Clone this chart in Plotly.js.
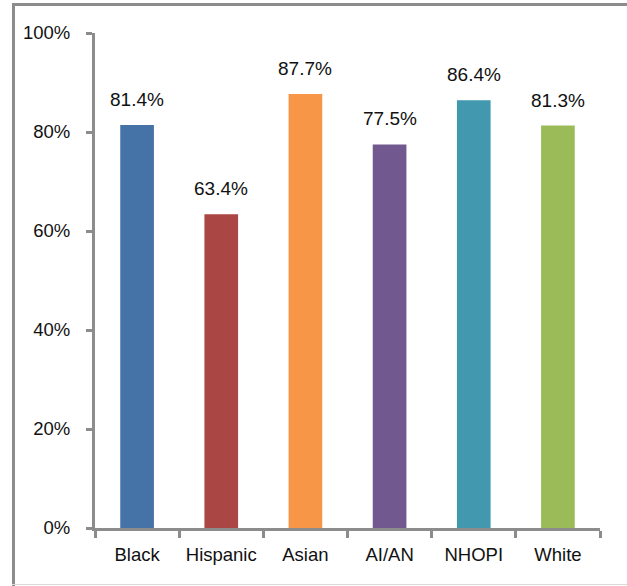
<!DOCTYPE html>
<html>
<head>
<meta charset="utf-8">
<script src="https://cdn.plot.ly/plotly-3.0.1.min.js"></script>
<style>
  html, body { margin: 0; padding: 0; background: #fff; }
  #wrap { position: relative; width: 627px; height: 586px; overflow: hidden; }
  #chart { position: absolute; left: 0; top: 0; width: 627px; height: 586px; }
  .frame { position: absolute; background: #8c8c8c; }
</style>
</head>
<body>
<div id="wrap">
  <div id="chart"></div>
  <div class="frame" style="left:12px; top:3px; width:615px; height:3px;"></div>
  <div class="frame" style="left:12px; top:3px; width:3px; height:583px;"></div>
  <div class="frame" style="left:12px; top:584px; width:615px; height:1px; background:#d9d9d9;"></div>
</div>
<script>
const categories = ["Black", "Hispanic", "Asian", "AI/AN", "NHOPI", "White"];
const values = [81.4, 63.4, 87.7, 77.5, 86.4, 81.3];
const labels = ["81.4%", "63.4%", "87.7%", "77.5%", "86.4%", "81.3%"];
const colors = ["#4572A7", "#AA4643", "#F79646", "#71588F", "#4198AF", "#9BBB59"];
const yTickVals = [0, 20, 40, 60, 80, 100];
const yTickText = ["0%", "20%", "40%", "60%", "80%", "100%"];

const font = "Liberation Sans, Arial, sans-serif";

const trace = {
  type: "bar",
  x: categories,
  y: values,
  marker: { color: colors },
  hoverinfo: "none",
  cliponaxis: false
};

const annotations = categories.map((c, i) => ({
  x: c, y: values[i], xref: "x", yref: "y",
  text: labels[i], showarrow: false,
  yanchor: "bottom", yshift: 13,
  font: { family: font, size: 19, color: "#111111" }
}));

const layout = {
  width: 627, height: 586,
  margin: { l: 95, r: 27, t: 33, b: 58 },
  paper_bgcolor: "rgba(0,0,0,0)",
  plot_bgcolor: "rgba(0,0,0,0)",
  showlegend: false,
  bargap: 0.6,
  font: { family: font, size: 18, color: "#111111" },
  xaxis: {
    type: "category",
    showline: true, linecolor: "#8c8c8c", linewidth: 3,
    ticks: "outside", tickson: "boundaries", ticklen: 7, tickwidth: 3, tickcolor: "#8c8c8c",
    ticklabelstandoff: 8,
    showgrid: false, zeroline: false,
    tickfont: { family: font, size: 18.5, color: "#111111" }
  },
  yaxis: {
    range: [0, 100],
    tickvals: yTickVals, ticktext: yTickText,
    showline: true, linecolor: "#8c8c8c", linewidth: 3,
    ticks: "outside", ticklen: 6, tickwidth: 3, tickcolor: "#8c8c8c",
    ticklabelstandoff: 12,
    showgrid: false, zeroline: false,
    tickfont: { family: font, size: 18.5, color: "#111111" }
  },
  annotations: annotations
};

Plotly.newPlot("chart", [trace], layout, { displayModeBar: false, staticPlot: true });
</script>
</body>
</html>
